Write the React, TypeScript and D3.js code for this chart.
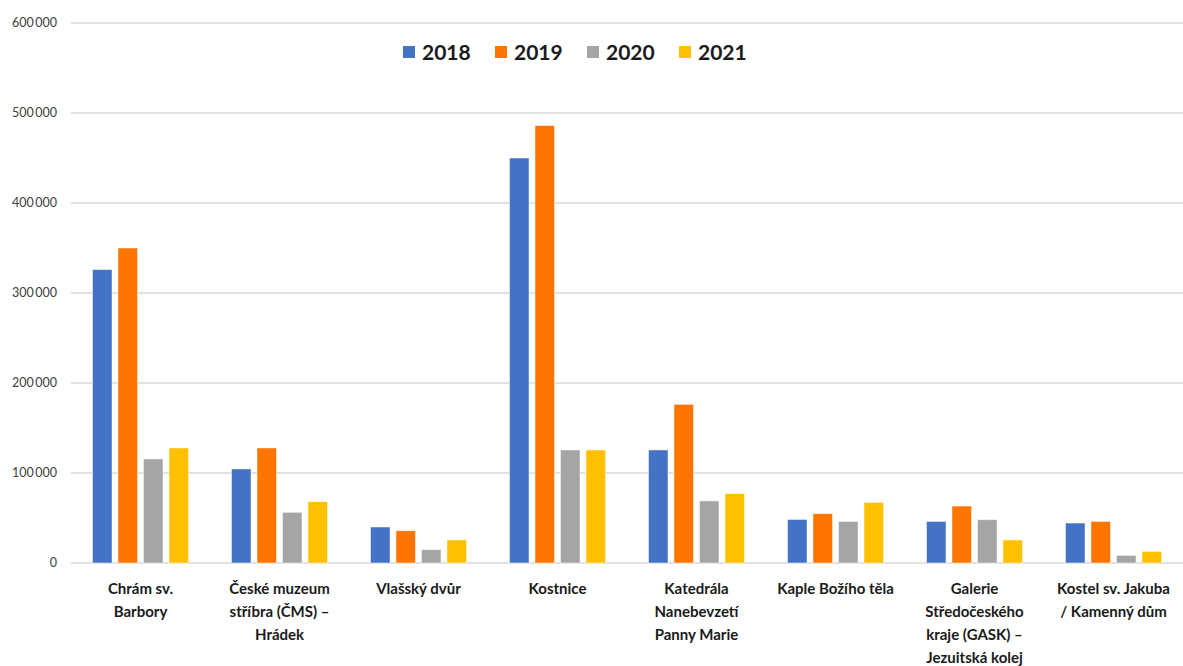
import React from 'react';
import * as d3 from 'd3';

const categories: string[][] = [
    ['Chrám sv.', 'Barbory'],
    ['České muzeum', 'stříbra (ČMS) –', 'Hrádek'],
    ['Vlašský dvůr'],
    ['Kostnice'],
    ['Katedrála', 'Nanebevzetí', 'Panny Marie'],
    ['Kaple Božího těla'],
    ['Galerie', 'Středočeského', 'kraje (GASK) –', 'Jezuitská kolej'],
    ['Kostel sv. Jakuba', '/ Kamenný dům'],
];

const years = ['2018', '2019', '2020', '2021'];
const colors = ['#4472C4', '#FF7500', '#A5A5A5', '#FFC000'];

// visitors per year, in category order
const v2018 = [326000, 104500, 40000, 450000, 125600, 48400, 46200, 44400];
const v2019 = [350000, 127800, 35900, 486000, 176300, 54800, 63300, 46200];
const v2020 = [115600, 56300, 14800, 125600, 69000, 46200, 48100, 8400];
const v2021 = [127800, 68100, 25600, 125600, 77000, 67300, 25600, 12900];
const series = [v2018, v2019, v2020, v2021];

const yTicks = [0, 100000, 200000, 300000, 400000, 500000, 600000];

const width = 1183;
const height = 666;
const margin = { top: 23, right: 0, bottom: 103, left: 71 };

const fmt = d3
    .formatLocale({ thousands: '\u2009', grouping: [3], decimal: ',', currency: ['', ''] })
    .format(',d');

const App: React.FC = () => {
    const keys = categories.map((c) => c.join(' '));

    const x0 = d3
        .scaleBand<string>()
        .domain(keys)
        .range([margin.left, width - margin.right]);

    const groupW = 96;
    const x1 = d3
        .scaleBand<string>()
        .domain(years)
        .range([(x0.bandwidth() - groupW) / 2, (x0.bandwidth() + groupW) / 2])
        .paddingInner(0.235);

    const y = d3
        .scaleLinear()
        .domain([0, 600000])
        .range([height - margin.bottom, margin.top]);

    const legendX = d3.scaleBand<string>().domain(years).range([403, 771]);

    return (
        <svg
            width={width}
            height={height}
            style={{ position: 'absolute', left: 0, top: 0, background: '#fff' }}
            fontFamily="Lato, 'Liberation Sans', sans-serif"
        >
            {/* gridlines + y labels */}
            {yTicks.map((t) => (
                <g key={t}>
                    <line
                        x1={margin.left}
                        x2={width}
                        y1={y(t)}
                        y2={y(t)}
                        stroke="#d9d9d9"
                        strokeWidth={1.3}
                    />
                    <text
                        x={57}
                        y={y(t)}
                        dy="0.35em"
                        textAnchor="end"
                        fontSize={12.5}
                        fill="#404040"
                    >
                        {fmt(t)}
                    </text>
                </g>
            ))}

            {/* bars */}
            {keys.map((k, i) => (
                <g key={k} transform={`translate(${x0(k)},0)`}>
                    {series.map((s, j) => (
                        <rect
                            key={years[j]}
                            x={x1(years[j])}
                            y={y(s[i])}
                            width={x1.bandwidth()}
                            height={y(0) - y(s[i])}
                            fill={colors[j]}
                            stroke="#fff"
                            strokeOpacity={0.6}
                            strokeWidth={0.8}
                        />
                    ))}
                </g>
            ))}

            {/* category labels */}
            {categories.map((lines, i) => (
                <text
                    key={keys[i]}
                    x={(x0(keys[i]) as number) + x0.bandwidth() / 2}
                    y={594}
                    textAnchor="middle"
                    fontSize={15}
                    fontWeight="bold"
                    fill="#1a1a1a"
                >
                    {lines.map((l, n) => (
                        <tspan key={n} x={(x0(keys[i]) as number) + x0.bandwidth() / 2} dy={n === 0 ? 0 : 23}>
                            {l}
                        </tspan>
                    ))}
                </text>
            ))}

            {/* legend */}
            {years.map((yr, j) => (
                <g key={yr} transform={`translate(${legendX(yr)},46)`}>
                    <rect width={12} height={12} fill={colors[j]} />
                    <text x={19} y={6} dy="0.36em" fontSize={21} fontWeight="bold" fill="#1a1a1a">
                        {yr}
                    </text>
                </g>
            ))}
        </svg>
    );
};

export default App;
